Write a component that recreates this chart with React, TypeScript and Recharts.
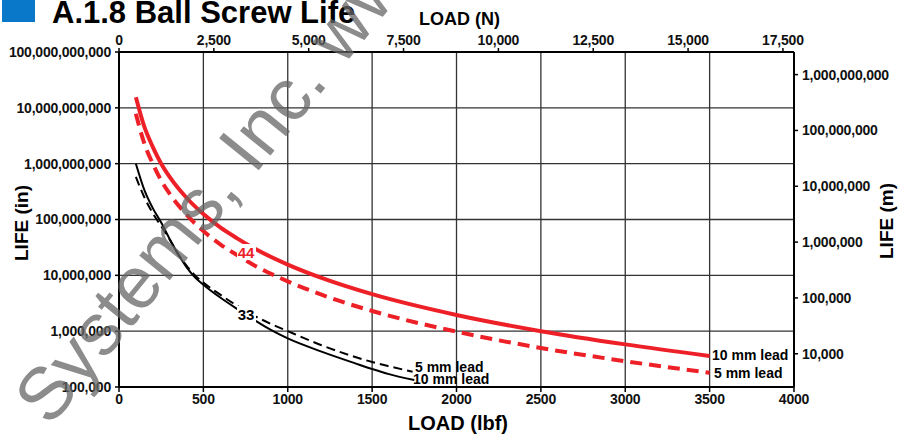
import { LineChart, Line, XAxis, YAxis, CartesianGrid } from 'recharts';

const FONT = '"Liberation Sans", Arial, Helvetica, sans-serif';

const loadTicksLbf = [0, 500, 1000, 1500, 2000, 2500, 3000, 3500, 4000];
const loadTicksN = [0, 2500, 5000, 7500, 10000, 12500, 15000, 17500];
const lifeTicksIn = [1e5, 1e6, 1e7, 1e8, 1e9, 1e10, 1e11];
const lifeTicksM = [1e4, 1e5, 1e6, 1e7, 1e8, 1e9];

const LBF_TO_N = 4.448;

// size 44, 10 mm lead (red solid)
const load44Lead10 = [100, 150, 200, 250, 300, 400, 500, 600, 700, 800, 1000, 1200, 1500, 2000, 2500, 3000, 3500];
const life44Lead10 = [1.55e10, 4.6e9, 2.0e9, 1.0e9, 5.8e8, 2.45e8, 1.25e8, 7.2e7, 4.6e7, 3.05e7, 1.56e7, 9.0e6, 4.6e6, 1.95e6, 1.0e6, 5.8e5, 3.6e5];

// size 44, 5 mm lead (red dashed)
const load44Lead5 = [100, 150, 200, 250, 300, 400, 500, 600, 700, 800, 1000, 1200, 1500, 2000, 2500, 3000, 3500];
const life44Lead5 = [7.8e9, 2.3e9, 1.0e9, 5.0e8, 2.9e8, 1.22e8, 6.2e7, 3.6e7, 2.3e7, 1.52e7, 7.8e6, 4.5e6, 2.3e6, 9.8e5, 5.0e5, 2.9e5, 1.8e5];

// size 33, 10 mm lead (black solid)
const load33Lead10 = [100, 150, 200, 250, 300, 350, 400, 450, 500, 600, 700, 800, 900, 1000, 1200, 1400, 1500, 1600, 1750];
const life33Lead10 = [1.0e9, 3.4e8, 1.6e8, 8.8e7, 4.5e7, 2.4e7, 1.4e7, 9.2e6, 6.8e6, 4.0e6, 2.5e6, 1.6e6, 1.05e6, 7.4e5, 4.3e5, 2.65e5, 2.1e5, 1.7e5, 1.33e5];

// size 33, 5 mm lead (black dashed)
const load33Lead5 = [100, 150, 200, 250, 300, 350, 400, 450, 500, 600, 700, 800, 900, 1000, 1200, 1400, 1500, 1600, 1740];
const life33Lead5 = [5.8e8, 2.5e8, 1.3e8, 7.6e7, 4.4e7, 2.4e7, 1.5e7, 1.0e7, 7.4e6, 4.5e6, 2.85e6, 1.9e6, 1.35e6, 1.0e6, 5.6e5, 3.45e5, 2.8e5, 2.35e5, 1.88e5];

const toRows = (loads: number[], lives: number[]) =>
  loads.map((load, i) => ({ load, life: lives[i] }));

// same curve expressed in newtons, only used to give the top axis its scale
const newtonRows = load44Lead10.map((load, i) => ({ loadN: load * LBF_TO_N, life: life44Lead10[i] }));

const tickStyle = { fill: '#111', fontSize: 14, fontWeight: 700, fontFamily: FONT, letterSpacing: -0.2 };
const axisLine = { stroke: '#000', strokeWidth: 2 };
const tickLine = { stroke: '#000', strokeWidth: 1.5 };

export default function App() {
  return (
    <div style={{ position: 'absolute', left: 0, top: 0, width: 905, height: 438, background: '#fff', fontFamily: FONT }}>
      <LineChart width={905} height={438} margin={{ top: 0, right: 0, bottom: 0, left: 0 }}>
        <CartesianGrid
          xAxisId="lbf"
          yAxisId="in"
          stroke="#333"
          strokeWidth={1.3}
          horizontalValues={lifeTicksIn}
          verticalValues={loadTicksLbf}
        />
        <XAxis
          xAxisId="lbf"
          dataKey="load"
          type="number"
          domain={[0, 4000]}
          ticks={loadTicksLbf}
          allowDataOverflow
          height={51}
          tick={tickStyle}
          tickSize={5}
          tickMargin={2}
          axisLine={axisLine}
          tickLine={tickLine}
          interval={0}
        />
        <XAxis
          xAxisId="n"
          dataKey="loadN"
          orientation="top"
          type="number"
          domain={[0, 4000 * LBF_TO_N]}
          ticks={loadTicksN}
          allowDataOverflow
          height={52}
          tick={tickStyle}
          tickSize={4}
          tickMargin={3}
          axisLine={axisLine}
          tickLine={tickLine}
          interval={0}
          tickFormatter={(v: number) => v.toLocaleString('en-US')}
        />
        <YAxis
          yAxisId="in"
          type="number"
          scale="log"
          domain={[1e5, 1e11]}
          ticks={lifeTicksIn}
          allowDataOverflow
          width={119}
          tick={tickStyle}
          tickSize={4}
          tickMargin={4}
          axisLine={axisLine}
          tickLine={tickLine}
          interval={0}
          tickFormatter={(v: number) => v.toLocaleString('en-US')}
        />
        <YAxis
          yAxisId="m"
          orientation="right"
          type="number"
          scale="log"
          domain={[1e5 * 0.0254, 1e11 * 0.0254]}
          ticks={lifeTicksM}
          allowDataOverflow
          width={111}
          tick={{ ...tickStyle, textAnchor: 'start' }}
          tickSize={4}
          tickMargin={4}
          axisLine={axisLine}
          tickLine={tickLine}
          interval={0}
          tickFormatter={(v: number) => v.toLocaleString('en-US')}
        />
        <Line
          xAxisId="n"
          yAxisId="in"
          data={newtonRows}
          dataKey="life"
          stroke="none"
          dot={false}
          activeDot={false}
          isAnimationActive={false}
        />
        <Line
          xAxisId="lbf"
          yAxisId="in"
          data={toRows(load44Lead10, life44Lead10)}
          dataKey="life"
          type="monotone"
          stroke="#ee2027"
          strokeWidth={4}
          dot={false}
          isAnimationActive={false}
        />
        <Line
          xAxisId="lbf"
          yAxisId="in"
          data={toRows(load44Lead5, life44Lead5)}
          dataKey="life"
          type="monotone"
          stroke="#ee2027"
          strokeWidth={4}
          strokeDasharray="12 7"
          dot={false}
          isAnimationActive={false}
        />
        <Line
          xAxisId="lbf"
          yAxisId="in"
          data={toRows(load33Lead10, life33Lead10)}
          dataKey="life"
          type="monotone"
          stroke="#000"
          strokeWidth={2}
          dot={false}
          isAnimationActive={false}
        />
        <Line
          xAxisId="lbf"
          yAxisId="in"
          data={toRows(load33Lead5, life33Lead5)}
          dataKey="life"
          type="monotone"
          stroke="#000"
          strokeWidth={2}
          strokeDasharray="9 5"
          dot={false}
          isAnimationActive={false}
        />
      </LineChart>

      <svg
        width={905}
        height={438}
        style={{ position: 'absolute', left: 0, top: 0, pointerEvents: 'none' }}
        fontFamily={FONT}
        fontWeight={700}
      >
        <rect x={2} y={0} width={33} height={22} fill="#0a78c8" />
        <text x={52} y={23} fontSize={31} fill="#000">A.1.8 Ball Screw Life</text>
        <text x={419} y={25} fontSize={18} fill="#000">LOAD (N)</text>
        <text x={458} y={430} fontSize={20} fill="#000" textAnchor="middle">LOAD (lbf)</text>
        <text x={0} y={0} fontSize={19} fill="#000" textAnchor="middle" transform="translate(28 223) rotate(-90)">LIFE (in)</text>
        <text x={0} y={0} fontSize={19} fill="#000" textAnchor="middle" transform="translate(893 221) rotate(-90)">LIFE (m)</text>

        <rect x={237} y={244} width={19} height={16} fill="#fff" />
        <text x={246} y={258} fontSize={15} fill="#ee2027" textAnchor="middle">44</text>
        <rect x={237} y={306} width={19} height={16} fill="#fff" />
        <text x={246} y={320} fontSize={15} fill="#000" textAnchor="middle">33</text>

        <text x={712} y={360} fontSize={14} fill="#000">10 mm lead</text>
        <text x={714} y={378} fontSize={14} fill="#000">5 mm lead</text>
        <text x={415} y={372} fontSize={14} fill="#000">5 mm lead</text>
        <text x={413} y={384} fontSize={14} fill="#000">10 mm lead</text>

        <text
          x={0}
          y={0}
          fontSize={74}
          fontWeight={400}
          fill="#666"
          fillOpacity={0.75}
          transform="translate(50 428) rotate(-51)"
        >
          Systems, Inc. www
        </text>
      </svg>
    </div>
  );
}
